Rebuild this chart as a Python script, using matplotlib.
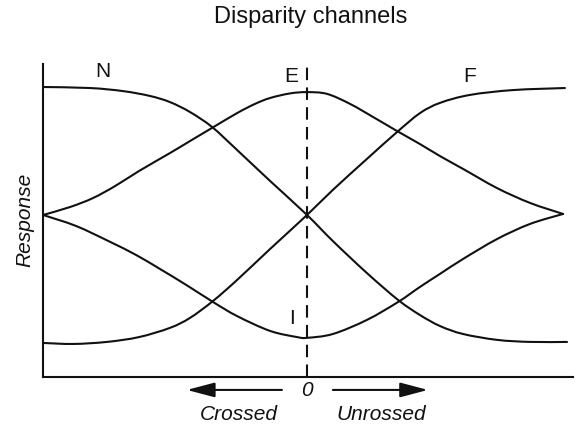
import numpy as np
import matplotlib
matplotlib.use("Agg")
import matplotlib.pyplot as plt
from matplotlib.path import Path
from matplotlib.patches import PathPatch

plt.rcParams["font.family"] = ["Liberation Sans", "DejaVu Sans"]

# Disparity axis: -1 (crossed) ... 0 ... +1 (uncrossed); response 0..1
near_d = [-1.0, -0.822, -0.697, -0.595, -0.519, -0.443, -0.36, -0.265, -0.14, 0.0,
          0.098, 0.227, 0.345, 0.428, 0.504, 0.591, 0.72, 0.845, 0.985]
near_r = [1.0, 0.996, 0.984, 0.965, 0.941, 0.902, 0.844, 0.754, 0.633, 0.5,
          0.398, 0.273, 0.168, 0.109, 0.066, 0.035, 0.012, 0.004, 0.004]

far_d = [-1.0, -0.886, -0.758, -0.636, -0.519, -0.443, -0.356, -0.265, -0.14, 0.0,
         0.098, 0.227, 0.341, 0.428, 0.504, 0.617, 0.78, 0.977]
far_r = [0.0, -0.004, 0.004, 0.023, 0.059, 0.098, 0.164, 0.246, 0.367, 0.5,
         0.598, 0.719, 0.824, 0.898, 0.938, 0.969, 0.988, 0.996]

exc_d = [-1.0, -0.898, -0.811, -0.727, -0.636, -0.519, -0.443, -0.36, -0.265, -0.197,
         -0.14, -0.064, 0.0, 0.076, 0.163, 0.25, 0.341, 0.428, 0.504, 0.591, 0.72, 0.845, 0.97]
exc_r = [0.5, 0.531, 0.566, 0.613, 0.672, 0.742, 0.789, 0.840, 0.898, 0.934,
         0.957, 0.975, 0.980, 0.973, 0.934, 0.883, 0.828, 0.777, 0.730, 0.680, 0.605, 0.547, 0.504]

inh_d = [-1.0, -0.875, -0.746, -0.648, -0.557, -0.458, -0.356, -0.265, -0.14, -0.038,
         0.0, 0.098, 0.227, 0.345, 0.428, 0.504, 0.591, 0.72, 0.845, 0.97]
inh_r = [0.5, 0.457, 0.395, 0.344, 0.289, 0.227, 0.160, 0.105, 0.047, 0.023,
         0.02, 0.035, 0.09, 0.16, 0.219, 0.270, 0.328, 0.406, 0.465, 0.504]

channel_labels = ["N", "E", "F", "I"]


def smooth_path(xs, ys):
    """Catmull-Rom curve through the given points, as cubic Bezier segments."""
    p = np.column_stack([xs, ys]).astype(float)
    verts = [p[0]]
    codes = [Path.MOVETO]
    n = len(p)
    for i in range(n - 1):
        p0 = p[i - 1] if i > 0 else p[i]
        p1, p2 = p[i], p[i + 1]
        p3 = p[i + 2] if i + 2 < n else p[i + 1]
        c1 = p1 + (p2 - p0) / 6.0
        c2 = p2 - (p3 - p1) / 6.0
        verts += [c1, c2, p2]
        codes += [Path.CURVE4] * 3
    return Path(verts, codes)


fig = plt.figure(figsize=(5.76, 4.27), dpi=100)
ax = fig.add_axes([0.0747, 0.1148, 0.9201, 0.740])
ax.set_xlim(-1.0, 1.0076)
ax.set_ylim(-0.133, 1.1016)

lw = 1.5
ink = "#111111"
for xs, ys in [(near_d, near_r), (far_d, far_r), (exc_d, exc_r), (inh_d, inh_r)]:
    ax.add_patch(PathPatch(smooth_path(xs, ys), fill=False, lw=lw,
                           color=ink, capstyle="round", joinstyle="round"))

# zero-disparity marker
zl, = ax.plot([0, 0], [-0.133, 1.09], color=ink, lw=lw)
zl.set_dashes((6, 3.5))

for sp in ["top", "right"]:
    ax.spines[sp].set_visible(False)
for sp in ["left", "bottom"]:
    ax.spines[sp].set_linewidth(lw)
    ax.spines[sp].set_color(ink)
ax.spines["left"].set_bounds(-0.133, 1.09)
ax.set_xticks([])
ax.set_yticks([])

fs = 15
ax.text(-0.775, 1.065, channel_labels[0], fontsize=fs, ha="center", va="center", color=ink)
ax.text(-0.06, 1.045, channel_labels[1], fontsize=fs, ha="center", va="center", color=ink)
ax.text(0.617, 1.045, channel_labels[2], fontsize=fs, ha="center", va="center", color=ink)
ax.text(-0.056, 0.10, channel_labels[3], fontsize=fs, ha="center", va="center", color=ink)

ax.set_ylabel("Response", fontsize=fs, style="italic", color=ink, labelpad=6)

# direction arrows under the axis
tr = ax.get_xaxis_transform()
arrow_y = -0.041
head = "-|>,head_length=1.7,head_width=0.45"
ax.annotate("", xy=(-0.455, arrow_y), xytext=(-0.095, arrow_y), xycoords=tr, textcoords=tr,
            arrowprops=dict(arrowstyle=head, lw=lw, color=ink, shrinkA=0, shrinkB=0),
            annotation_clip=False)
ax.annotate("", xy=(0.458, arrow_y), xytext=(0.098, arrow_y), xycoords=tr, textcoords=tr,
            arrowprops=dict(arrowstyle=head, lw=lw, color=ink, shrinkA=0, shrinkB=0),
            annotation_clip=False)
ax.text(0.0, arrow_y, "0", transform=tr, fontsize=fs, style="italic",
        ha="center", va="center", color=ink)
ax.text(-0.258, -0.114, "Crossed", transform=tr, fontsize=fs, style="italic",
        ha="center", va="center", color=ink)
ax.text(0.28, -0.114, "Unrossed", transform=tr, fontsize=fs, style="italic",
        ha="center", va="center", color=ink)

fig.text(311 / 576, 1 - 17 / 427, "Disparity channels", fontsize=17,
         ha="center", va="center", color=ink)

fig.savefig("out.png", dpi=100)
